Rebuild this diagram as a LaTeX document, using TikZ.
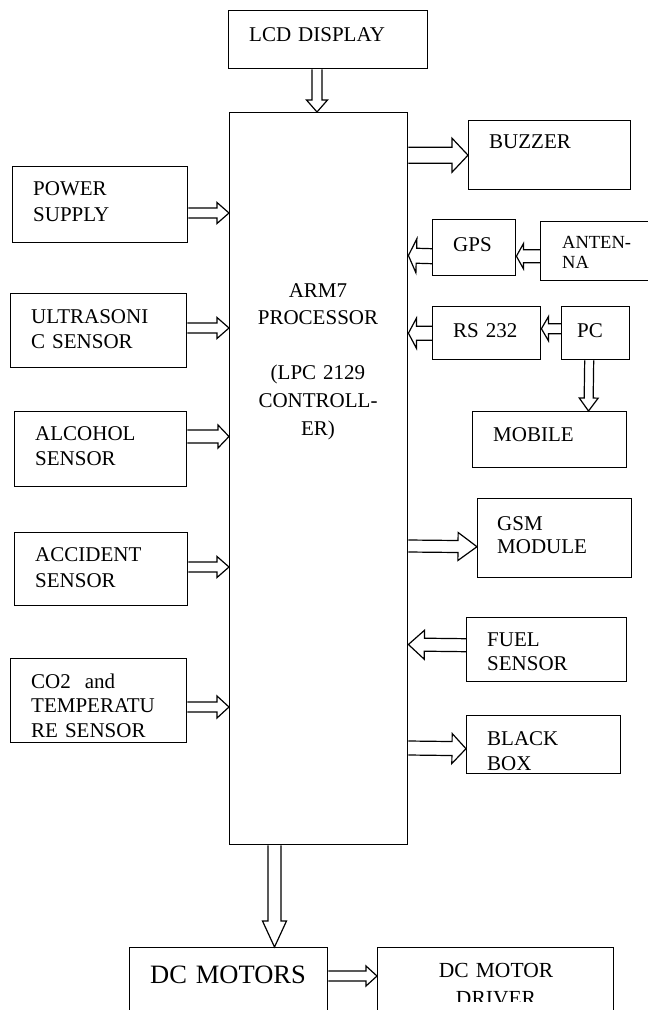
\documentclass[tikz,border=0pt]{standalone}
\usepackage{fontspec}
\setmainfont{Liberation Serif}
\usepackage{tikz}
\usetikzlibrary{positioning,calc}
\tikzset{
  blk/.style={draw=black,line width=1.4pt,inner sep=0pt,anchor=north west},
  txt/.style={inner sep=0pt,anchor=base west,text width=170pt,align=left,
    font=\fontsize{21}{25}\selectfont},
  fat/.style={draw=black,line width=1.2pt,line join=miter},
}
% hollow block arrow: from, to, shaft half width, head half width, head length
\newcommand{\fatarrow}[5]{%
  \coordinate (fa1) at (#1);
  \coordinate (fa2) at (#2);
  \coordinate (fah) at ($(fa2)!#5!(fa1)$);
  \draw[fat] ($(fa1)!#3!90:(fa2)$) -- ($(fah)!#3!90:(fa2)$) -- ($(fah)!#4!90:(fa2)$)
    -- (fa2) -- ($(fah)!#4!-90:(fa2)$) -- ($(fah)!#3!-90:(fa2)$) -- ($(fa1)!#3!-90:(fa2)$);
}

\begin{document}
\begin{tikzpicture}[x=1pt,y=-1pt]
\useasboundingbox (0,0) rectangle (648,1010);
\fill[white] (0,0) rectangle (648,1010);
\clip (0,0) rectangle (648,1010);

% boxes
\node[blk,minimum width=199pt,minimum height=58pt] (lcd) at (228,10) {};
\node[blk,minimum width=178pt,minimum height=732pt] (arm) at (229,112) {};
\node[blk,minimum width=162pt,minimum height=69pt] (buzzer) at (468,120) {};
\node[blk,minimum width=83pt,minimum height=56pt] (gps) at (432,219) {};
\node[blk,minimum width=112pt,minimum height=59pt] (antenna) at (540,221) {};
\node[blk,minimum width=108pt,minimum height=53pt] (rs232) at (432,306) {};
\node[blk,minimum width=68pt,minimum height=53pt] (pc) at (561,306) {};
\node[blk,minimum width=154pt,minimum height=56pt] (mobile) at (472,411) {};
\node[blk,minimum width=154pt,minimum height=79pt] (gsm) at (477,498) {};
\node[blk,minimum width=160pt,minimum height=64pt] (fuel) at (466,617) {};
\node[blk,minimum width=154pt,minimum height=58pt] (blackbox) at (466,715) {};
\node[blk,minimum width=175pt,minimum height=76pt] (power) at (12,166) {};
\node[blk,minimum width=176pt,minimum height=74pt] (ultra) at (10,293) {};
\node[blk,minimum width=172pt,minimum height=75pt] (alcohol) at (14,411) {};
\node[blk,minimum width=173pt,minimum height=73pt] (accident) at (14,532) {};
\node[blk,minimum width=176pt,minimum height=84pt] (co2) at (10,658) {};
\node[blk,minimum width=198pt,minimum height=90pt] (dcmotors) at (129,947) {};
\node[blk,minimum width=236pt,minimum height=90pt] (driver) at (377,947) {};

% labels
\node[txt] (t-lcd) at (249,41) {LCD DISPLAY};
\node[txt,anchor=base,text width=176pt,align=center,
  font=\fontsize{21}{27.6}\selectfont] (t-arm) at (318,297)
  {ARM7\\PROCESSOR\\[27.6pt](LPC 2129\\CONTROLL-\\ER)};
\node[txt] (t-buzzer) at (489,148) {BUZZER};
\node[txt] (t-gps) at (453,251) {GPS};
\node[txt,font=\fontsize{18.5}{20}\selectfont] (t-antenna) at (562,248) {ANTEN-\\NA};
\node[txt] (t-rs232) at (453,337) {RS 232};
\node[txt] (t-pc) at (577,337) {PC};
\node[txt] (t-mobile) at (493,441) {MOBILE};
\node[txt,font=\fontsize{21}{23.5}\selectfont] (t-gsm) at (497,530) {GSM\\MODULE};
\node[txt,font=\fontsize{21}{24}\selectfont] (t-fuel) at (487,646) {FUEL\\SENSOR};
\node[txt] (t-blackbox) at (487,745) {BLACK\\BOX};
\node[txt,font=\fontsize{21}{26}\selectfont] (t-power) at (33,195) {POWER\\SUPPLY};
\node[txt] (t-ultra) at (31,323) {ULTRASONI\\C SENSOR};
\node[txt] (t-alcohol) at (35,440) {ALCOHOL\\SENSOR};
\node[txt,font=\fontsize{21}{26}\selectfont] (t-accident) at (35,561) {ACCIDENT\\SENSOR};
\node[txt,font=\fontsize{21}{24.5}\selectfont] (t-co2) at (31,688) {CO2\ \ and\\TEMPERATU\\RE SENSOR};
\node[txt,font=\fontsize{26.5}{30}\selectfont] (t-dcmotors) at (150,983) {DC MOTORS};
\begin{scope}
\clip (377,947) rectangle (613,1001);
\node[txt,anchor=base,text width=230pt,align=center,
  font=\fontsize{21.5}{28}\selectfont] (t-driver) at (496,977) {DC MOTOR\\DRIVER};
\end{scope}

% connectors
\fatarrow{lcd.south -| 317,0}{arm.north -| 317,0}{5pt}{10.5pt}{12pt}
\fatarrow{arm.east |- buzzer.west}{buzzer.west}{8pt}{17pt}{16pt}
\fatarrow{[yshift=-5pt]antenna.west}{[yshift=-8.5pt]gps.east}{6.5pt}{12.5pt}{7pt}
\fatarrow{[yshift=-8.5pt]gps.west}{arm.east |- 0,255.5}{7.5pt}{17pt}{8pt}
\fatarrow{[yshift=4.5pt]pc.west}{[yshift=4.5pt]rs232.east}{5pt}{12pt}{7pt}
\fatarrow{rs232.west}{arm.east |- rs232.west}{7pt}{15pt}{8pt}
\fatarrow{[xshift=-6.5pt]pc.south}{mobile.north -| 588.5,0}{4.5pt}{9.5pt}{13pt}
\fatarrow{arm.east |- 0,546}{[yshift=-8.5pt]gsm.west}{6pt}{14pt}{19pt}
\fatarrow{[yshift=4.5pt]fuel.west}{arm.east |- 0,644.5}{6.5pt}{14.5pt}{16pt}
\fatarrow{arm.east |- 0,748}{[yshift=-4pt]blackbox.west}{7pt}{15pt}{14pt}
\fatarrow{power.east |- 0,213}{arm.west |- 0,213}{5pt}{10.5pt}{12pt}
\fatarrow{ultra.east |- 0,328}{arm.west |- 0,328}{5pt}{10.5pt}{12pt}
\fatarrow{alcohol.east |- 0,436.5}{arm.west |- 0,436.5}{6.5pt}{11.5pt}{11pt}
\fatarrow{accident.east |- 0,567}{arm.west |- 0,567}{5pt}{10.5pt}{12pt}
\fatarrow{co2.east |- 0,707}{arm.west |- 0,707}{5pt}{11pt}{12pt}
\fatarrow{arm.south -| 274.5,0}{dcmotors.north -| 274.5,0}{6.5pt}{12pt}{26pt}
\fatarrow{dcmotors.east |- 0,976}{driver.west |- 0,976}{5pt}{10pt}{11pt}
\end{tikzpicture}
\end{document}
